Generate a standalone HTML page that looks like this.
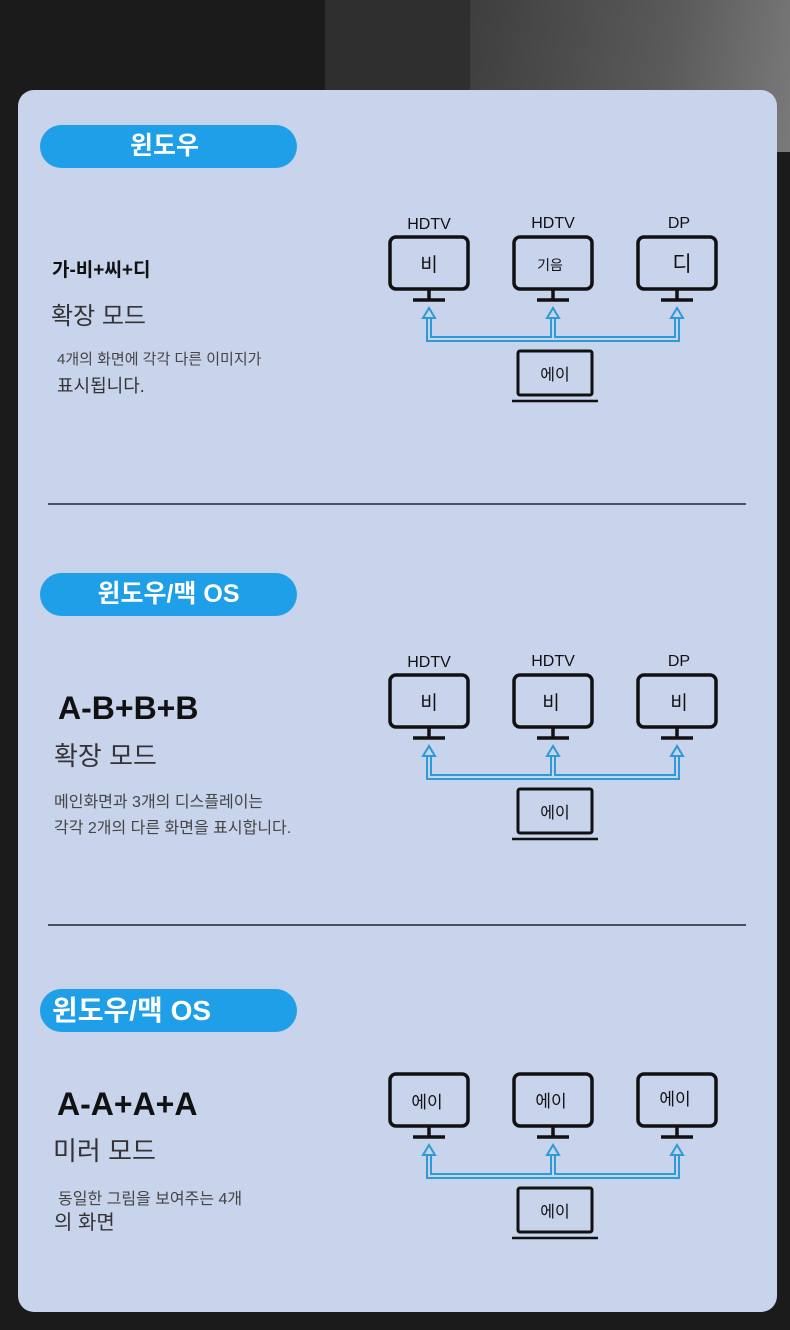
<!DOCTYPE html>
<html><head><meta charset="utf-8"><style>
html,body{margin:0;padding:0}
body{width:790px;height:1330px;position:relative;overflow:hidden;background:#1c1b1b;font-family:"Liberation Sans","Noto Sans CJK KR",sans-serif}
.bg1{position:absolute;left:325px;top:0;width:145px;height:152px;background:#2f2f30}
.bg2{position:absolute;left:470px;top:0;width:320px;height:152px;background:linear-gradient(100deg,#3e3e3e,#5a5a5a 60%,#7a7a7a)}
.panel{position:absolute;left:18px;top:90px;width:759px;height:1222px;background:#c8d3ec;border-radius:16px}
.pill{position:absolute;left:40px;width:257px;height:43px;border-radius:22px;background:#1f9fe8;color:#fff;font-size:25px;font-weight:bold;text-align:center;line-height:43px}
.t{position:absolute;color:#222}
.hr{position:absolute;left:48px;width:698px;height:2px;background:#4a5060}
</style></head><body>
<div class="bg1"></div><div class="bg2"></div>
<div class="panel"></div>
<div class="pill" style="top:125px;text-align:left;padding-left:90px;width:167px">윈도우</div>
<div class="pill" style="top:573px">윈도우/맥 OS</div>
<div class="pill" style="top:989px;text-align:left;padding-left:12px;width:245px;font-size:28px">윈도우/맥 OS</div>

<div class="t" style="left:52px;top:255px;font-size:19px;color:#111;font-weight:bold">가-비+씨+디</div>
<div class="t" style="left:51px;top:296px;font-size:24px;color:#333">확장 모드</div>
<div class="t" style="left:57px;top:348px;font-size:15px;color:#444">4개의 화면에 각각 다른 이미지가</div>
<div class="t" style="left:57px;top:372px;font-size:18px;color:#333">표시됩니다.</div>

<div class="hr" style="top:503px"></div>

<div class="t" style="left:58px;top:690px;font-size:32px;font-weight:bold;color:#111">A-B+B+B</div>
<div class="t" style="left:54px;top:736px;font-size:26px;color:#333">확장 모드</div>
<div class="t" style="left:54px;top:788px;font-size:16px;color:#444">메인화면과 3개의 디스플레이는</div>
<div class="t" style="left:54px;top:814px;font-size:16px;color:#444">각각 2개의 다른 화면을 표시합니다.</div>

<div class="hr" style="top:924px"></div>

<div class="t" style="left:57px;top:1086px;font-size:32px;font-weight:bold;color:#111">A-A+A+A</div>
<div class="t" style="left:53px;top:1131px;font-size:26px;color:#333">미러 모드</div>
<div class="t" style="left:58px;top:1185px;font-size:16px;color:#444">동일한 그림을 보여주는 4개</div>
<div class="t" style="left:54px;top:1206px;font-size:20px;color:#333">의 화면</div>

<svg width="790" height="1330" style="position:absolute;left:0;top:0" font-family="Liberation Sans, Noto Sans CJK KR, sans-serif">
<defs>
<g id="mon">
<rect x="-39" y="1" width="78" height="52" rx="6" fill="none" stroke="#111" stroke-width="3.5"/>
<line x1="0" y1="54" x2="0" y2="63" stroke="#111" stroke-width="3.5"/>
<line x1="-16" y1="64" x2="16" y2="64" stroke="#111" stroke-width="3.5"/>
</g>
<g id="conn">
<path d="M429 316 V339 H677 V316 M553 339 V316" fill="none" stroke="#2e9ad6" stroke-width="6"/>
<path d="M429 316 V339 H677 V316 M553 339 V316" fill="none" stroke="#c8d3ec" stroke-width="2"/>
<path d="M423 318 L429 308 L435 318 Z M547 318 L553 308 L559 318 Z M671 318 L677 308 L683 318 Z" fill="#c8d3ec" stroke="#2e9ad6" stroke-width="2"/>
<rect x="518" y="351" width="74" height="44" rx="2" fill="none" stroke="#111" stroke-width="3"/>
<line x1="512" y1="401" x2="598" y2="401" stroke="#111" stroke-width="2.5"/>
</g>
</defs>
<g>
<use href="#mon" x="429" y="236"/><use href="#mon" x="553" y="236"/><use href="#mon" x="677" y="236"/>
<use href="#conn"/>
<g font-size="16" fill="#111" text-anchor="middle">
<text x="429" y="229">HDTV</text><text x="553" y="228">HDTV</text><text x="679" y="228">DP</text>
<text x="429" y="271" font-size="19">비</text><text x="550" y="270" font-size="14">기음</text><text x="682" y="271" font-size="21">디</text>
<text x="555" y="380" font-size="16">에이</text>
</g>
</g>
<g transform="translate(0,438)">
<use href="#mon" x="429" y="236"/><use href="#mon" x="553" y="236"/><use href="#mon" x="677" y="236"/>
<use href="#conn"/>
<g font-size="16" fill="#111" text-anchor="middle">
<text x="429" y="229">HDTV</text><text x="553" y="228">HDTV</text><text x="679" y="228">DP</text>
<text x="429" y="271" font-size="19">비</text><text x="551" y="271" font-size="19">비</text><text x="679" y="271" font-size="19">비</text>
<text x="555" y="380" font-size="16">에이</text>
</g>
</g>
<g transform="translate(0,837)">
<use href="#mon" x="429" y="236"/><use href="#mon" x="553" y="236"/><use href="#mon" x="677" y="236"/>
<use href="#conn"/>
<g font-size="16" fill="#111" text-anchor="middle">
<text x="427" y="271" font-size="17">에이</text><text x="551" y="270" font-size="17">에이</text><text x="675" y="268" font-size="17">에이</text>
<text x="555" y="380" font-size="16">에이</text>
</g>
</g>
</svg>
</body></html>
